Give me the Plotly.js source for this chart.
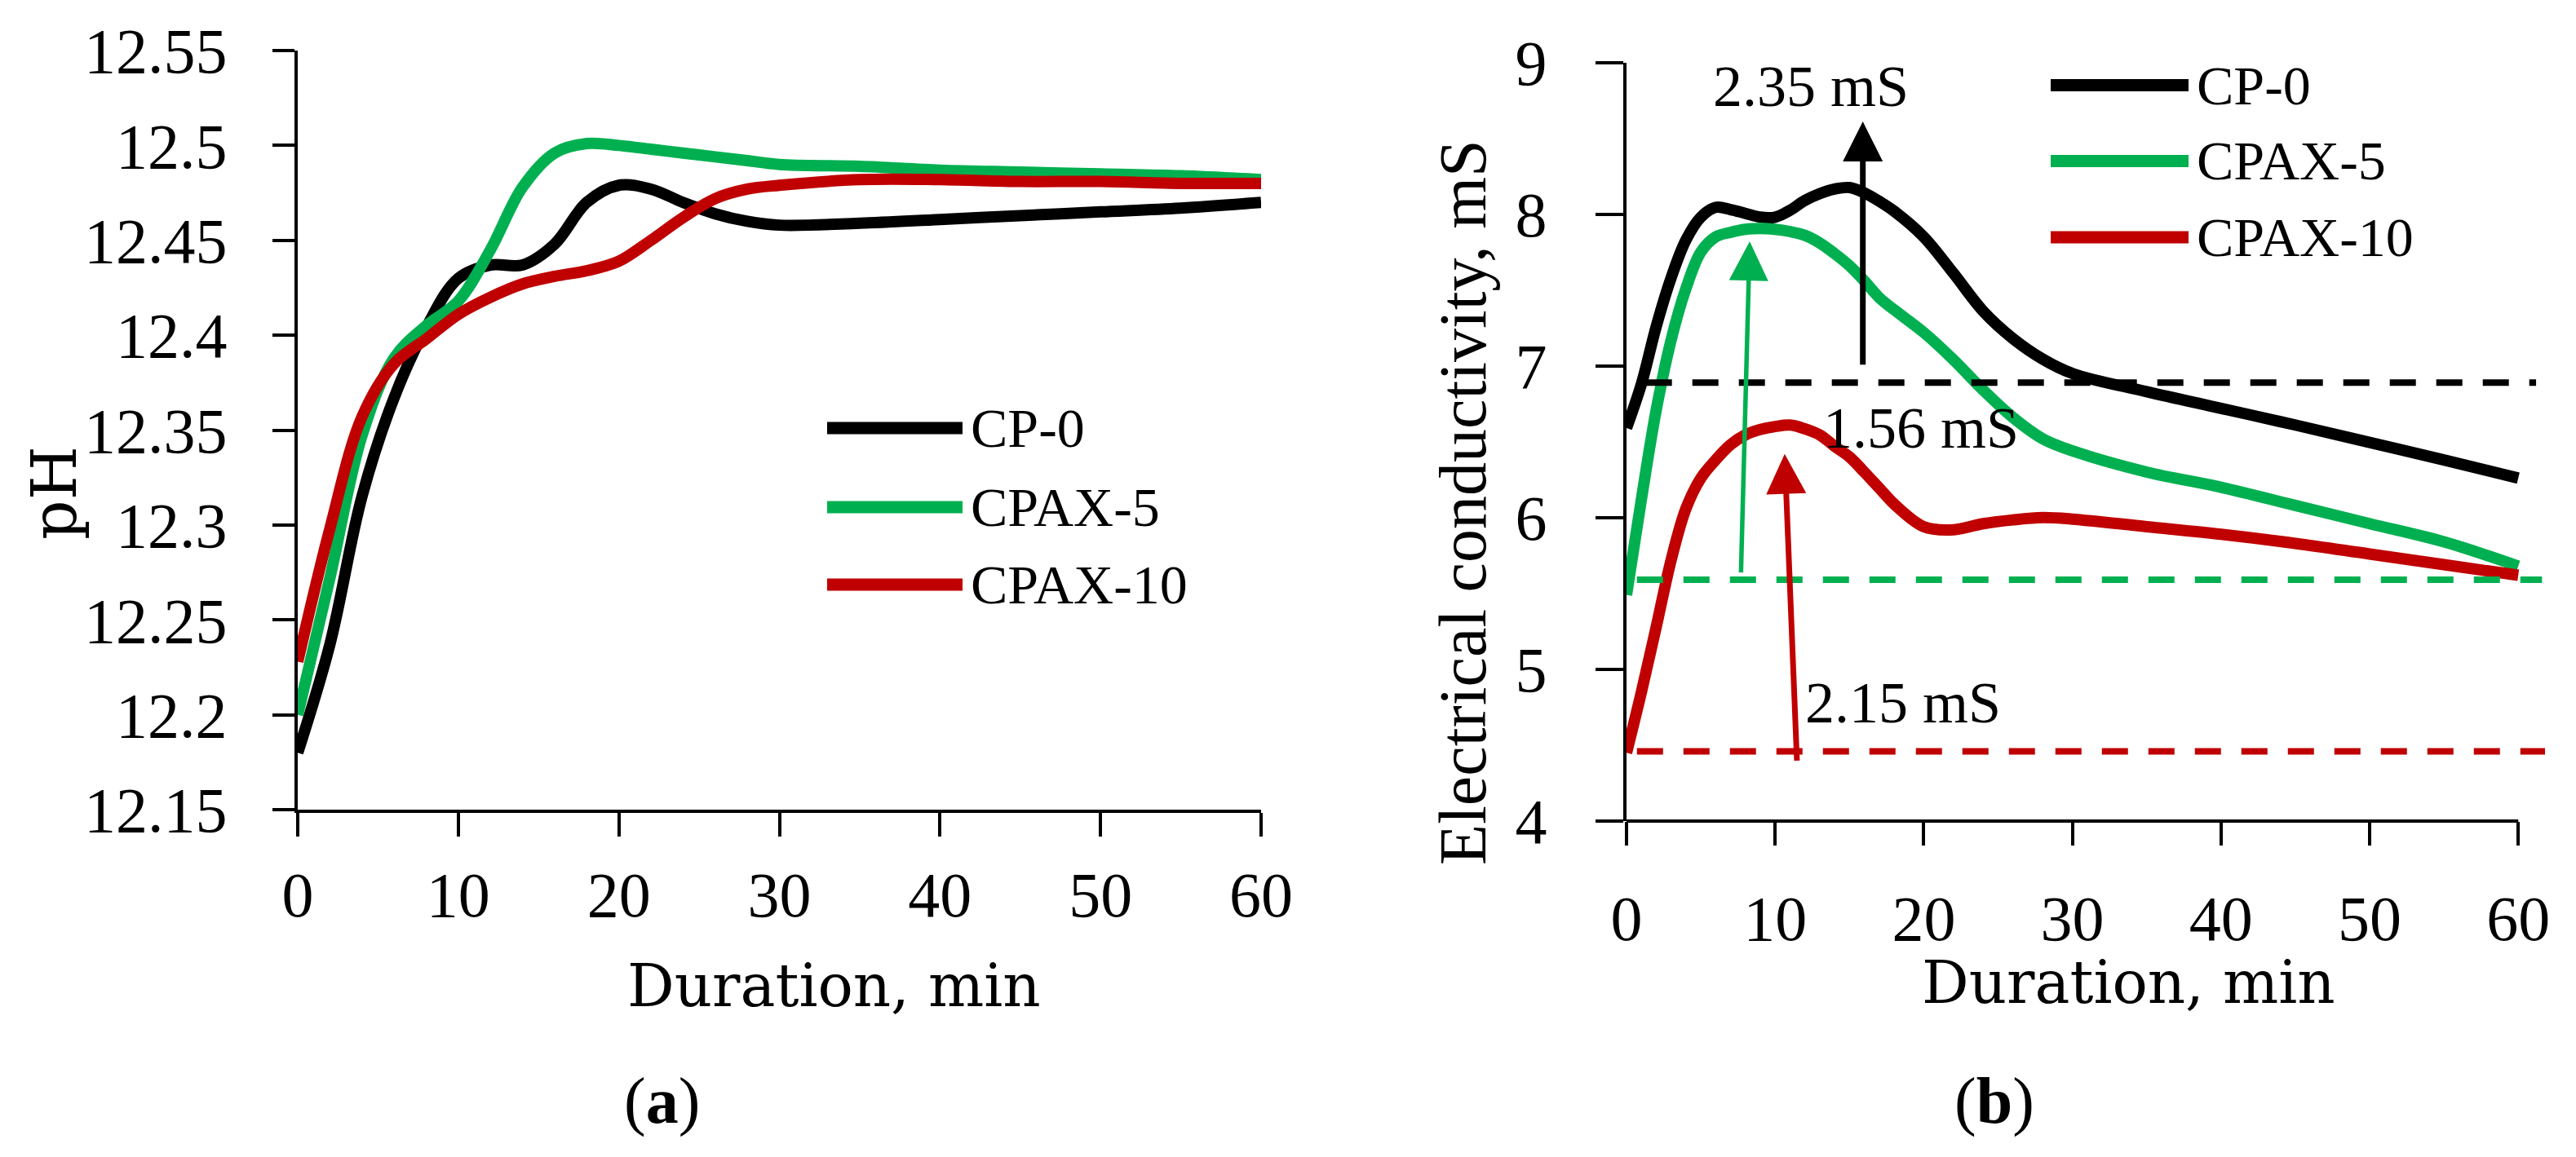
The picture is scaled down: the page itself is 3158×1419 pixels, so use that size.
<!DOCTYPE html>
<html>
<head>
<meta charset="utf-8">
<script src="https://cdn.plot.ly/plotly-3.0.1.min.js"></script>
<style>
    html, body { margin: 0; padding: 0; background: #ffffff; }
    #chart { width: 3158px; height: 1419px; }
</style>
</head>
<body>
<div id="chart"></div>
<script>
// series shared by both panels
const seriesNames = ["CP-0", "CPAX-5", "CPAX-10"]
const seriesColors = ["#000000", "#00B050", "#C00000"]

// (a) pH vs duration
const timePH = [0, 2, 4, 6, 8, 10, 12, 14, 16, 18, 20, 22, 24, 26, 28, 30, 35, 40, 45, 50, 55, 60]
const phCP0 = [12.18, 12.237, 12.315, 12.367, 12.404, 12.430, 12.437, 12.437, 12.448, 12.470, 12.479, 12.477, 12.470, 12.464, 12.460, 12.458, 12.459, 12.461, 12.463, 12.465, 12.467, 12.470]
const phCPAX5 = [12.200, 12.272, 12.347, 12.388, 12.405, 12.418, 12.445, 12.478, 12.496, 12.501, 12.500, 12.498, 12.496, 12.494, 12.492, 12.490, 12.489, 12.487, 12.486, 12.485, 12.484, 12.482]
const phCPAX10 = [12.228, 12.298, 12.357, 12.385, 12.398, 12.411, 12.420, 12.427, 12.431, 12.434, 12.439, 12.450, 12.462, 12.472, 12.477, 12.479, 12.482, 12.482, 12.481, 12.481, 12.480, 12.480]
const phTicks = [12.15, 12.2, 12.25, 12.3, 12.35, 12.4, 12.45, 12.5, 12.55]
const phTickText = ["12.15", "12.2", "12.25", "12.3", "12.35", "12.4", "12.45", "12.5", "12.55"]

// (b) electrical conductivity vs duration
const timeEC = [0, 1, 2, 3, 4, 5, 6, 7, 8, 9, 10, 11, 12, 13, 14, 15, 16, 17, 18, 20, 22, 24, 26, 28, 30, 35, 40, 45, 50, 55, 60]
const ecCP0 = [6.59, 6.88, 7.26, 7.58, 7.83, 7.98, 8.045, 8.03, 8.005, 7.98, 7.98, 8.025, 8.09, 8.135, 8.165, 8.175, 8.14, 8.085, 8.02, 7.85, 7.61, 7.36, 7.18, 7.045, 6.95, 6.83, 6.72, 6.61, 6.495, 6.38, 6.26]
const ecCPAX5 = [5.49, 6.12, 6.71, 7.17, 7.51, 7.75, 7.85, 7.88, 7.90, 7.905, 7.90, 7.885, 7.86, 7.81, 7.74, 7.66, 7.56, 7.45, 7.37, 7.22, 7.04, 6.84, 6.66, 6.52, 6.44, 6.30, 6.20, 6.08, 5.96, 5.84, 5.68]
const ecCPAX10 = [4.45, 4.85, 5.28, 5.72, 6.06, 6.26, 6.38, 6.48, 6.545, 6.58, 6.60, 6.61, 6.585, 6.545, 6.47, 6.40, 6.30, 6.195, 6.09, 5.94, 5.92, 5.96, 5.985, 6.0, 5.99, 5.94, 5.89, 5.83, 5.76, 5.69, 5.62]
const ecTicks = [4, 5, 6, 7, 8, 9]
const durationTicks = [0, 10, 20, 30, 40, 50, 60]

// initial conductivity levels (dashed) and the rise to the peak (arrows)
const baseLevel = [6.89, 5.59, 4.46]
const baseStart = [1.3, 0.7, 0.7]
const baseEnd = [61.2, 61.6, 61.8]
const riseText = ["2.35 mS", "1.56 mS", "2.15 mS"]
const riseTextX = [12.4, 19.8, 18.6]
const riseTextY = [8.84, 6.59, 4.78]
const arrowTailX = [15.9, 7.7, 11.47]
const arrowTailY = [7.0, 5.63, 4.39]
const arrowTipX = [15.9, 8.29, 10.64]
const arrowTipY = [8.61, 7.82, 6.42]

const W = 3158
const H = 1419
const px = (x) => x / W
const py = (y) => 1 - y / H

const serif = "Liberation Serif, Times New Roman, serif"
const wideSerif = "DejaVu Serif, Liberation Serif, serif"

const phSeries = [phCP0, phCPAX5, phCPAX10]
const ecSeries = [ecCP0, ecCPAX5, ecCPAX10]

const traces = []
phSeries.forEach((vals, i) => {
    traces.push({
        x: timePH, y: vals, xaxis: "x", yaxis: "y",
        type: "scatter", mode: "lines", name: seriesNames[i],
        line: { color: seriesColors[i], width: 14, shape: "spline", smoothing: 1 },
        showlegend: false,
    })
})
ecSeries.forEach((vals, i) => {
    traces.push({
        x: timeEC, y: vals, xaxis: "x2", yaxis: "y2",
        type: "scatter", mode: "lines", name: seriesNames[i],
        line: { color: seriesColors[i], width: 14, shape: "spline", smoothing: 1 },
        showlegend: false,
    })
})
baseLevel.forEach((lvl, i) => {
    traces.push({
        x: [baseStart[i], baseEnd[i]], y: [lvl, lvl], xaxis: "x2", yaxis: "y2",
        type: "scatter", mode: "lines", hoverinfo: "skip",
        line: { color: seriesColors[i], width: 8, dash: "32px,25px" },
        showlegend: false,
    })
})

const axisCommon = {
    showgrid: false,
    zeroline: false,
    showline: true,
    linecolor: "#000",
    linewidth: 4,
    ticks: "outside",
    tickwidth: 4,
    tickcolor: "#000",
    tickfont: { family: serif, size: 78, color: "#000" },
    fixedrange: true,
}

const annotations = []
const shapes = []

// hand-made legends (long line samples)
const legendSpots = [
    { x0: 1014, x1: 1180, ys: [525, 622, 717] },
    { x0: 2514, x1: 2683, ys: [104.6, 197.5, 291] },
]
legendSpots.forEach((spot) => {
    seriesNames.forEach((name, i) => {
        shapes.push({
            type: "line", xref: "paper", yref: "paper",
            x0: px(spot.x0), x1: px(spot.x1), y0: py(spot.ys[i]), y1: py(spot.ys[i]),
            line: { color: seriesColors[i], width: 15 },
        })
        annotations.push({
            xref: "paper", yref: "paper", x: px(spot.x1 + 8), y: py(spot.ys[i]),
            xanchor: "left", yanchor: "middle", showarrow: false,
            text: name, font: { family: serif, size: 68, color: "#000" },
        })
    })
})

// x axis line of panel (b) stops at 60 while the dashed lines run past it
shapes.push({
    type: "line", xref: "x2", yref: "paper", x0: 0, x1: 60, y0: py(1007), y1: py(1007),
    line: { color: "#000", width: 4 },
})

riseText.forEach((t, i) => {
    annotations.push({
        xref: "x2", yref: "y2", x: arrowTipX[i], y: arrowTipY[i],
        axref: "x2", ayref: "y2", ax: arrowTailX[i], ay: arrowTailY[i],
        text: "", showarrow: true, arrowhead: 2,
        arrowsize: i === 1 ? 1.75 : 1.4, arrowwidth: i === 1 ? 5.5 : 7,
        arrowcolor: seriesColors[i], standoff: 0, startstandoff: 0,
    })
    annotations.push({
        xref: "x2", yref: "y2", x: riseTextX[i], y: riseTextY[i],
        showarrow: false, text: t, xanchor: "center", yanchor: "middle",
        font: { family: serif, size: 72, color: "#000" },
    })
})

// axis titles and panel letters, centred on their spots
const titleNote = (x, y, text, family, size, angle) => ({
    xref: "paper", yref: "paper", x: px(x), y: py(y),
    xanchor: "center", yanchor: "middle", showarrow: false,
    textangle: angle || 0, text: text,
    font: { family: family, size: size, color: "#000" },
})
annotations.push(
    titleNote(66, 605, "pH", wideSerif, 76, -90),
    titleNote(1023, 1209, "Duration, min", wideSerif, 72),
    titleNote(1793, 616, "Electrical conductivity, mS", serif, 82, -90),
    titleNote(2609, 1205, "Duration, min", wideSerif, 72),
    titleNote(811, 1350, "(<b>a</b>)", serif, 80),
    titleNote(2445, 1350, "(<b>b</b>)", serif, 80),
)

const layout = {
    width: W,
    height: H,
    margin: { l: 0, r: 0, t: 0, b: 0, pad: 0 },
    paper_bgcolor: "#ffffff",
    plot_bgcolor: "#ffffff",
    font: { family: serif, color: "#000" },
    showlegend: false,
    xaxis: {
        ...axisCommon,
        domain: [px(365), px(1546)],
        range: [0, 60],
        tickvals: durationTicks,
        ticklen: 29,
        ticklabelstandoff: 4,
        anchor: "y",
    },
    yaxis: {
        ...axisCommon,
        domain: [py(993), py(62)],
        range: [12.15, 12.55],
        tickvals: phTicks,
        ticktext: phTickText,
        ticklen: 27,
        ticklabelstandoff: 40,
        anchor: "x",
    },
    xaxis2: {
        ...axisCommon,
        showline: false,
        domain: [px(1994), px(1994 + 62 * 18.22)],
        range: [0, 62],
        tickvals: durationTicks,
        ticklen: 29,
        ticklabelstandoff: 22,
        anchor: "y2",
    },
    yaxis2: {
        ...axisCommon,
        domain: [py(1007), py(76.5)],
        range: [4, 9],
        tickvals: ecTicks,
        ticklen: 34,
        ticklabelstandoff: 44,
        anchor: "x2",
    },
    shapes: shapes,
    annotations: annotations,
}

Plotly.newPlot("chart", traces, layout, { staticPlot: true, displayModeBar: false })
</script>
</body>
</html>
